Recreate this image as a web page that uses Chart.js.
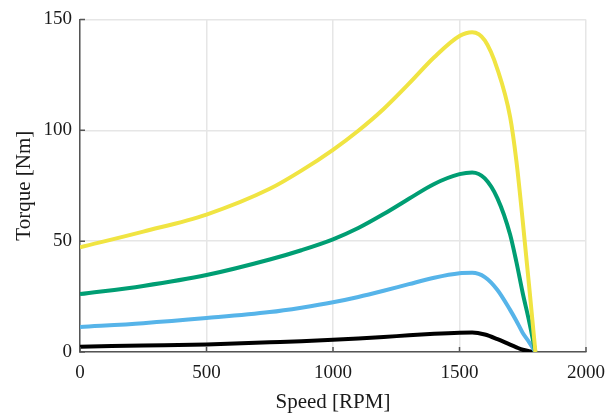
<!DOCTYPE html>
<html>
<head>
<meta charset="utf-8">
<script src="https://cdn.jsdelivr.net/npm/chart.js@4"></script>
<style>
  html, body { margin: 0; padding: 0; background: #fff; }
  #wrap { width: 615px; height: 415px; }
</style>
</head>
<body>
<div id="wrap"><canvas id="chart" width="615" height="415"></canvas></div>
<script>
'use strict';

// speed samples [RPM]
const speed = [0, 250, 500, 750, 875, 1000, 1100, 1200, 1300, 1400, 1500, 1550, 1600, 1650, 1700, 1725, 1750, 1775, 1800];

// torque curves [Nm]
const torqueYellow = [47.2, 54.3, 62, 73.6, 81.8, 91.2, 99.8, 109.6, 121, 132.9, 142.5, 144.2, 140.5, 127.5, 106, 86, 59, 30, 0];
const torqueGreen  = [26.1, 29.8, 34.7, 41.7, 45.9, 50.8, 55.9, 62.2, 69.1, 75.8, 80.2, 81, 78.3, 69.3, 53, 40.5, 26.5, 14, 0];
const torqueBlue   = [11.3, 13, 15.3, 18, 20, 22.4, 24.8, 27.6, 30.6, 33.5, 35.5, 35.7, 33.8, 28, 19, 14, 8.6, 4.5, 0];
const torqueBlack  = [2.4, 2.9, 3.4, 4.4, 4.9, 5.5, 6.1, 6.8, 7.5, 8.2, 8.7, 8.8, 7.9, 5.8, 3.3, 2.1, 1.0, 0.4, 0];

const xTicks = [0, 500, 1000, 1500, 2000];
const yTicks = [0, 50, 100, 150];

const fontFamily = '"Liberation Serif", "DejaVu Serif", serif';
const axisColor = '#555555';
const gridColor = '#e6e6e6';
const textColor = '#1a1a1a';

function toPoints(ys) {
    return speed.map((x, i) => ({ x: x, y: ys[i] }));
}

function line(ys, color) {
    return {
        data: toPoints(ys),
        borderColor: color,
        backgroundColor: color,
        borderWidth: 4,
        pointRadius: 0,
        fill: false,
        cubicInterpolationMode: 'monotone'
    };
}

// MATLAB style inward tick marks
const innerTicks = {
    id: 'innerTicks',
    afterDraw(c) {
        const ctx = c.ctx;
        const area = c.chartArea;
        const xs = c.scales.x;
        const ys = c.scales.y;
        ctx.save();
        ctx.strokeStyle = axisColor;
        ctx.lineWidth = 1.5;
        ctx.beginPath();
        xTicks.forEach(v => {
            const px = xs.getPixelForValue(v);
            ctx.moveTo(px, area.bottom);
            ctx.lineTo(px, area.bottom - 5);
        });
        yTicks.forEach(v => {
            const py = ys.getPixelForValue(v);
            ctx.moveTo(area.left, py);
            ctx.lineTo(area.left + 5, py);
        });
        ctx.stroke();
        ctx.restore();
    }
};

new Chart(document.getElementById('chart'), {
    type: 'line',
    data: {
        datasets: [
            line(torqueYellow, '#F0E442'),
            line(torqueGreen, '#009E73'),
            line(torqueBlue, '#56B4E9'),
            line(torqueBlack, '#000000')
        ]
    },
    options: {
        responsive: false,
        animation: false,
        layout: { padding: { left: 0, right: 22, top: 15, bottom: 0 } },
        scales: {
            x: {
                type: 'linear',
                min: 0,
                max: 2000,
                afterBuildTicks: s => { s.ticks = xTicks.map(v => ({ value: v })); },
                afterFit: s => { s.height = 63; },
                grid: { color: gridColor, lineWidth: 1.5, drawTicks: false },
                border: { display: true, color: axisColor, width: 1.5 },
                ticks: {
                    color: textColor,
                    padding: 10,
                    maxRotation: 0,
                    callback: v => String(v),
                    font: { family: fontFamily, size: 19 }
                },
                title: {
                    display: true,
                    text: 'Speed [RPM]',
                    color: textColor,
                    padding: { top: 0, bottom: 0 },
                    font: { family: fontFamily, size: 21 }
                }
            },
            y: {
                min: 0,
                max: 150,
                afterBuildTicks: s => { s.ticks = yTicks.map(v => ({ value: v })); },
                afterFit: s => { s.width = 80; },
                grid: { color: gridColor, lineWidth: 1.5, drawTicks: false },
                border: { display: true, color: axisColor, width: 1.5 },
                ticks: {
                    color: textColor,
                    padding: 8,
                    callback: v => String(v),
                    font: { family: fontFamily, size: 19 }
                },
                title: {
                    display: true,
                    text: 'Torque [Nm]',
                    color: textColor,
                    padding: { top: 12, bottom: 0 },
                    font: { family: fontFamily, size: 21 }
                }
            }
        },
        plugins: {
            legend: { display: false },
            tooltip: { enabled: false }
        }
    },
    plugins: [innerTicks]
});
</script>
</body>
</html>
